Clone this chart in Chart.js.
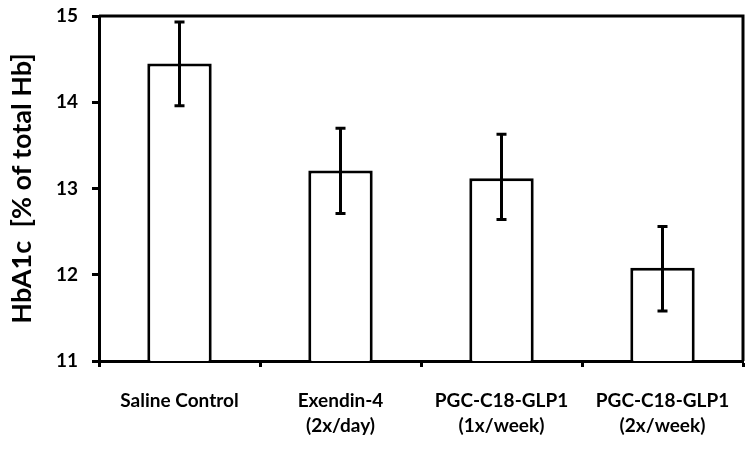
<!DOCTYPE html>
<html>
<head>
<meta charset="utf-8">
<script src="https://cdn.jsdelivr.net/npm/chart.js@4"></script>
<style>
  html, body { margin: 0; padding: 0; background: #fff; }
  #wrap { width: 751px; height: 449px; }
</style>
</head>
<body>
<div id="wrap"><canvas id="hbChart" width="751" height="449"></canvas></div>
<script>
// data
const groups = [
  ['Saline Control'],
  ['Exendin-4', '(2x/day)'],
  ['PGC-C18-GLP1', '(1x/week)'],
  ['PGC-C18-GLP1', '(2x/week)']
];
const hba1c = [14.45, 13.21, 13.12, 12.08];
const errTop = [14.93, 13.70, 13.63, 12.56];
const errBottom = [13.96, 12.71, 12.64, 11.58];
const yTicks = [11, 12, 13, 14, 15];

const ink = '#000';
const labelFont = { family: 'Lato', size: 19, weight: 'bold', lineHeight: 1.3 };

// whiskers + box frame
const extras = {
  id: 'extras',
  afterDatasetsDraw(chart) {
    const ctx = chart.ctx;
    const x = chart.scales.x, y = chart.scales.y;
    ctx.save();
    ctx.strokeStyle = ink;
    ctx.lineWidth = 3;
    hba1c.forEach((v, i) => {
      const px = x.getPixelForValue(i);
      const t = y.getPixelForValue(errTop[i]);
      const b = y.getPixelForValue(errBottom[i]);
      ctx.beginPath();
      ctx.moveTo(px, t); ctx.lineTo(px, b);
      ctx.moveTo(px - 5, t); ctx.lineTo(px + 5, t);
      ctx.moveTo(px - 5, b); ctx.lineTo(px + 5, b);
      ctx.stroke();
    });
    const a = chart.chartArea;
    ctx.beginPath();
    ctx.moveTo(a.left, a.top); ctx.lineTo(a.right, a.top); ctx.lineTo(a.right, a.bottom);
    ctx.stroke();
    ctx.restore();
  }
};

new Chart(document.getElementById('hbChart'), {
  type: 'bar',
  data: {
    labels: groups,
    datasets: [{
      data: hba1c,
      backgroundColor: '#fff',
      borderColor: ink,
      borderWidth: 3,
      borderSkipped: 'bottom',
      categoryPercentage: 1,
      barPercentage: 0.4
    }]
  },
  options: {
    responsive: false,
    animation: false,
    layout: { padding: { top: 16, right: 8, left: 0, bottom: 0 } },
    plugins: { legend: { display: false }, tooltip: { enabled: false } },
    scales: {
      x: {
        offset: true,
        grid: { offset: true, drawOnChartArea: false, tickLength: 6, tickWidth: 3, color: ink },
        border: { color: ink, width: 3 },
        ticks: { color: ink, font: labelFont, padding: 22, maxRotation: 0, autoSkip: false },
        afterFit: s => { s.height = 88; s.paddingLeft = 0; s.paddingRight = 0; }
      },
      y: {
        min: 11, max: 15,
        afterBuildTicks: s => { s.ticks = yTicks.map(v => ({ value: v })); },
        grid: { drawOnChartArea: false, tickLength: 7, tickWidth: 3, color: ink },
        border: { color: ink, width: 3 },
        ticks: { color: ink, font: labelFont, padding: 14 },
        title: {
          display: true,
          text: 'HbA1c  [% of total Hb]',
          color: ink,
          font: { family: 'Lato', size: 27, weight: 'bold' },
          padding: { top: 6, bottom: 0 }
        },
        afterFit: s => { s.width = 99; s.paddingTop = 0; s.paddingBottom = 0; }
      }
    }
  },
  plugins: [extras]
});
</script>
</body>
</html>
